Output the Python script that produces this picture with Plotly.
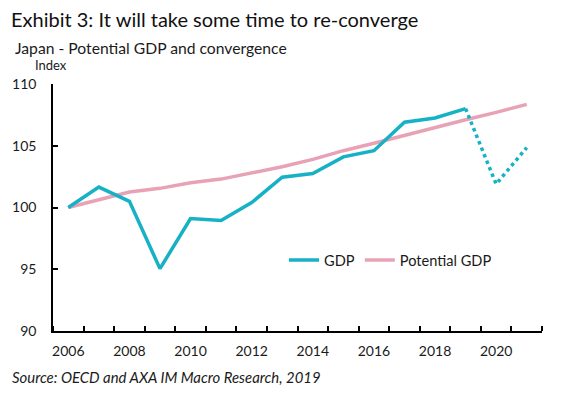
import plotly.graph_objects as go

years = list(range(2006, 2022))
gdp_years = list(range(2006, 2020))
gdp = [100.0, 101.65, 100.5, 95.05, 99.1, 98.95, 100.4, 102.45, 102.75, 104.1, 104.6, 106.9, 107.25, 108.0]
fcst_years = [2019, 2020, 2021]
gdp_fcst = [108.0, 101.9, 104.85]
potential = [100.0, 100.6, 101.25, 101.55, 102.0, 102.3, 102.8, 103.3, 103.9, 104.6, 105.2, 105.85, 106.45, 107.1, 107.7, 108.35]
x_labels = [2006, 2008, 2010, 2012, 2014, 2016, 2018, 2020]
y_ticks = [90, 95, 100, 105, 110]

TEAL = "#17B1C5"
PINK = "#E8A2B6"
FONT = "Lato"

L, R, T, B = 53, 37, 84, 68
W, H = 579, 399
pw, ph = W - L - R, H - T - B

def px(x):
    return (x - L) / pw

def py(y):
    return (H - B - y) / ph

fig = go.Figure()
fig.add_trace(go.Scatter(x=years, y=potential, mode="lines", name="Potential GDP",
                         legendrank=2, line=dict(color=PINK, width=3.5)))
fig.add_trace(go.Scatter(x=gdp_years, y=gdp, mode="lines", name="GDP",
                         legendrank=1, line=dict(color=TEAL, width=3.5)))
fig.add_trace(go.Scatter(x=fcst_years, y=gdp_fcst, mode="lines", name="GDP forecast",
                         showlegend=False, line=dict(color=TEAL, width=3.5, dash="dot")))

fig.update_layout(
    width=W, height=H,
    margin=dict(l=L, r=R, t=T, b=B, pad=0, autoexpand=False),
    paper_bgcolor="white", plot_bgcolor="white",
    font=dict(family=FONT, size=14, color="#1a1a1a"),
    title=dict(text="Exhibit 3: It will take some time to re-converge",
               xref="container", yref="container", x=11 / W, xanchor="left",
               y=1 - 20 / H, yanchor="middle",
               font=dict(family=FONT, size=20, color="#111111")),
    showlegend=True,
    legend=dict(orientation="h", x=px(284), xanchor="left", y=py(260), yanchor="middle",
                font=dict(size=14.6), bgcolor="rgba(0,0,0,0)", traceorder="normal",
                itemwidth=30, tracegroupgap=0),
    xaxis=dict(range=[2005.5, 2021.5], tickmode="array", tickvals=x_labels,
               ticktext=[str(v) for v in x_labels], ticks="outside", ticklen=6,
               tickcolor="rgba(0,0,0,0)", showgrid=False,
               showline=True, linecolor="black", linewidth=2, zeroline=False,
               tickfont=dict(size=14), automargin=False,
               minor=dict(tick0=2005.5, dtick=1, ticks="inside", ticklen=5,
                          tickcolor="black", tickwidth=1.5, showgrid=False)),
    # labels axis: transparent outside ticks push labels away from the axis line
    yaxis=dict(range=[90, 110], tickmode="array", tickvals=y_ticks,
               ticks="outside", ticklen=12, tickcolor="rgba(0,0,0,0)",
               showgrid=False, showline=True, linecolor="black", linewidth=1.5,
               zeroline=False, tickfont=dict(size=14), automargin=False),
    # tick-mark axis: inside ticks, no labels
    yaxis2=dict(range=[90, 110], overlaying="y", side="left", tickmode="array",
                tickvals=y_ticks, ticks="inside", ticklen=5, tickcolor="black",
                tickwidth=1.5, showticklabels=False, showgrid=False, showline=False,
                zeroline=False, automargin=False),
    annotations=[
        dict(text="Japan - Potential GDP and convergence", xref="paper", yref="paper",
             x=px(13), y=py(48), xanchor="left", yanchor="middle", showarrow=False,
             font=dict(size=15.7)),
        dict(text="Index", xref="paper", yref="paper", x=px(33), y=py(65),
             xanchor="left", yanchor="middle", showarrow=False, font=dict(size=13)),
        dict(text="<i>Source: OECD and AXA IM Macro Research, 2019</i>", xref="paper",
             yref="paper", x=px(10), y=py(377), xanchor="left", yanchor="middle",
             showarrow=False, font=dict(size=14.9)),
    ],
)
# dummy invisible trace so yaxis2 is drawn
fig.add_trace(go.Scatter(x=[years[0]], y=[y_ticks[0]], yaxis="y2", mode="lines",
                         showlegend=False, hoverinfo="skip",
                         line=dict(color="rgba(0,0,0,0)")))

fig.write_html("out.html", config={"displayModeBar": False},
               post_script="document.body.style.margin='0';")
